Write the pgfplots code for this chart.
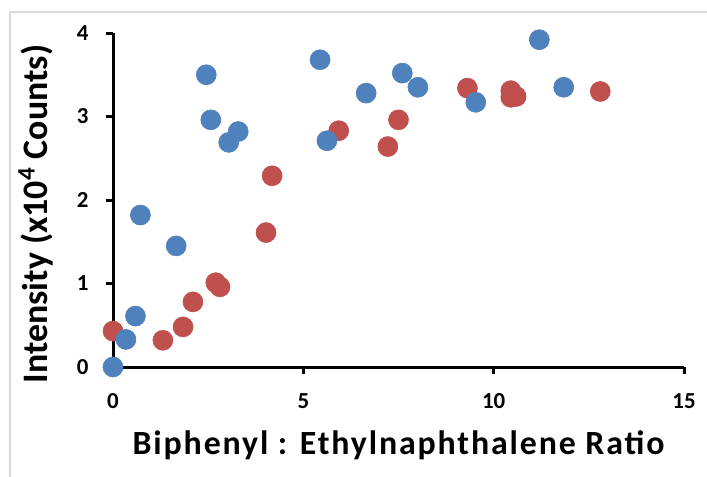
\documentclass[border=0pt]{standalone}
\usepackage{fontspec}
\setmainfont{Carlito}
\usepackage{pgfplots}
\pgfplotsset{compat=1.18}
\definecolor{xlblue}{HTML}{4F81BD}
\definecolor{xlred}{HTML}{C0504D}
\definecolor{framegray}{HTML}{D9D9D9}

\begin{document}
\begin{tikzpicture}
\begin{axis}[
  scale only axis, width=285.5bp, height=167bp,
  xmin=0, xmax=15, ymin=0, ymax=4,
  xtick={0,5,10,15}, ytick={0,1,2,3,4},
  axis x line=bottom, axis y line=left,
  axis line style={-, line width=1.5bp, black},
  tick align=outside, major tick length=3.5bp,
  tick style={line width=1.5bp, black},
  minor tick num=0,
  tick label style={font=\fontsize{11.5}{13}\selectfont\bfseries, inner sep=0pt},
  xticklabel style={anchor=north, yshift=-9.5bp},
  yticklabel style={anchor=east, xshift=-8.5bp},
  /pgf/number format/assume math mode=true,
  xlabel={\addfontfeatures{LetterSpace=5.5}Biphenyl : Ethylnaphthalene Ratio},
  ylabel={Intensity (x10\textsuperscript{4} Counts)},
  xlabel style={font=\fontsize{17}{20}\selectfont\bfseries,
    at={(axis description cs:0.5,0)}, anchor=base, yshift=-43.5bp},
  ylabel style={font=\fontsize{18}{21}\selectfont\bfseries,
    at={([xshift=-33bp]axis description cs:0,0.458)}, anchor=base},
  clip=false,
  every axis plot/.append style={only marks, mark=*, mark size=5bp},
]
% red series
\addplot[mark options={draw=xlred, fill=xlred, line width=0.3bp}] coordinates {
  (0,0.43) (1.31,0.32) (1.84,0.48) (2.10,0.78) (2.70,1.01) (2.81,0.96)
  (4.02,1.61) (4.18,2.29) (5.93,2.83) (7.22,2.64) (7.50,2.96) (9.31,3.34)
  (10.45,3.31) (10.45,3.23) (10.59,3.24) (12.80,3.30)
};
% blue series
\addplot[mark options={draw=xlblue, fill=xlblue, line width=0.3bp}] coordinates {
  (0,0) (0.34,0.33) (0.59,0.61) (0.72,1.82) (1.66,1.45) (2.45,3.50)
  (2.57,2.96) (3.04,2.69) (3.29,2.82) (5.44,3.68) (5.62,2.71) (6.65,3.28)
  (7.60,3.52) (8.01,3.35) (9.53,3.17) (11.20,3.92) (11.84,3.35)
};
\end{axis}
\pgfresetboundingbox
\useasboundingbox (-56.5bp,-55bp) rectangle (297bp,183.5bp);
\draw[framegray, line width=0.6bp] (-51.5bp,-70bp) -- (-51.5bp,177.5bp) -- (310bp,177.5bp);
\end{tikzpicture}
\end{document}
